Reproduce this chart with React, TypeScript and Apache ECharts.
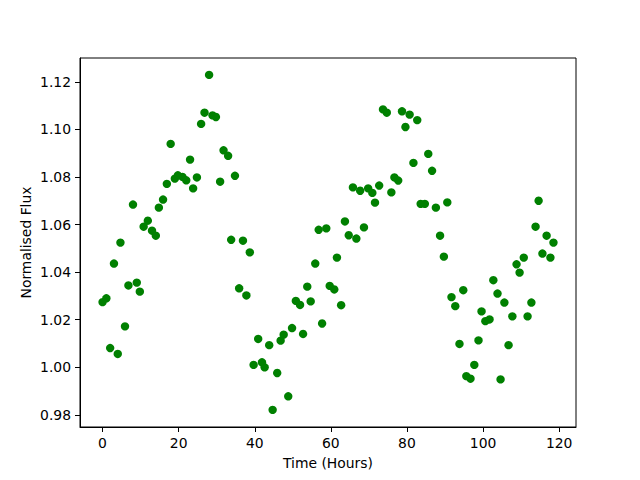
import React, { useEffect, useRef } from "react";
import * as echarts from "echarts";

const timeHours = [
  0, 1, 2, 3, 4, 4.7, 5.9, 6.8, 8, 9,
  9.8, 10.8, 11.9, 13, 14, 14.8, 15.9, 16.9, 17.9, 19,
  19.8, 21, 22, 23, 23.8, 24.8, 25.9, 26.8, 28, 28.9,
  29.8, 30.9, 31.8, 33, 33.8, 34.8, 35.9, 36.9, 37.8, 38.7,
  39.7, 40.9, 41.9, 42.6, 43.8, 44.7, 45.9, 46.8, 47.6, 48.8,
  49.8, 50.8, 51.9, 52.7, 53.8, 54.7, 55.9, 56.8, 57.7, 58.8,
  59.7, 60.9, 61.6, 62.7, 63.7, 64.7, 65.8, 66.7, 67.7, 68.7,
  69.8, 70.9, 71.6, 72.7, 73.7, 74.7, 75.9, 76.7, 77.7, 78.7,
  79.6, 80.7, 81.7, 82.7, 83.6, 84.7, 85.6, 86.6, 87.6, 88.7,
  89.7, 90.6, 91.7, 92.7, 93.8, 94.8, 95.6, 96.7, 97.7, 98.8,
  99.6, 100.6, 101.7, 102.7, 103.8, 104.6, 105.6, 106.7, 107.7, 108.8,
  109.6, 110.7, 111.7, 112.7, 113.8, 114.6, 115.6, 116.7, 117.7, 118.5,
];

const normalisedFlux = [
  1.0274, 1.029, 1.0081, 1.0436, 1.0056, 1.0524, 1.0172, 1.0344, 1.0684, 1.0356,
  1.0318, 1.0591, 1.0616, 1.0574, 1.0553, 1.0671, 1.0705, 1.0771, 1.0939, 1.0793,
  1.0807, 1.08, 1.0786, 1.0873, 1.0752, 1.0798, 1.1023, 1.107, 1.1229, 1.1059,
  1.1052, 1.078, 1.0912, 1.0889, 1.0536, 1.0805, 1.0332, 1.0532, 1.0302, 1.0483,
  1.001, 1.0119, 1.0021, 1.0, 1.0093, 0.9821, 0.9976, 1.0112, 1.0137, 0.9878,
  1.0165, 1.0279, 1.0262, 1.014, 1.0339, 1.0277, 1.0436, 1.0578, 1.0184, 1.0584,
  1.0342, 1.0327, 1.0461, 1.0261, 1.0613, 1.0555, 1.0756, 1.0541, 1.0742, 1.0588,
  1.0752, 1.0733, 1.0692, 1.0764, 1.1084, 1.107, 1.0735, 1.0798, 1.0785, 1.1076,
  1.101, 1.1062, 1.0859, 1.1039, 1.0687, 1.0687, 1.0897, 1.0826, 1.0671, 1.0553,
  1.0465, 1.0693, 1.0295, 1.0257, 1.0098, 1.0324, 0.9963, 0.9952, 1.001, 1.0113,
  1.0235, 1.0194, 1.0201, 1.0366, 1.031, 0.9949, 1.0272, 1.0093, 1.0214, 1.0433,
  1.0398, 1.0461, 1.0214, 1.0272, 1.0591, 1.07, 1.0478, 1.0553, 1.0461, 1.0524,
];

const xTicks = [0, 20, 40, 60, 80, 100, 120];
const yTicks = [0.98, 1.0, 1.02, 1.04, 1.06, 1.08, 1.1, 1.12];

const FONT = "DejaVu Sans";

export default function App() {
  const ref = useRef<HTMLDivElement>(null);
  useEffect(() => {
    if (!ref.current) return;
    const chart = echarts.init(ref.current, undefined, { renderer: "svg" });
    const data = timeHours.map((t, i) => [t, normalisedFlux[i]]);
    chart.setOption({
      animation: false,
      backgroundColor: "#ffffff",
      textStyle: { fontFamily: FONT },
      grid: {
        left: 80,
        right: 64,
        top: 58,
        bottom: 53,
        show: true,
        borderColor: "#000",
        borderWidth: 1,
        backgroundColor: "transparent",
      },
      xAxis: {
        type: "value",
        min: -5.925,
        max: 124.425,
        name: "Time (Hours)",
        nameLocation: "middle",
        nameGap: 29,
        nameMoveOverlap: false,
        nameTextStyle: { color: "#000", fontSize: 13.9, fontFamily: FONT },
        axisLine: { show: true, onZero: false, lineStyle: { color: "#000", width: 1 } },
        axisTick: {
          show: true,
          inside: false,
          length: 5,
          lineStyle: { color: "#000" },
          customValues: xTicks,
        },
        axisLabel: {
          color: "#000",
          fontSize: 13.9,
          fontFamily: FONT,
          margin: 9,
          customValues: xTicks,
          formatter: (v: number) => String(v),
        },
        splitLine: { show: false },
      },
      yAxis: {
        type: "value",
        min: 0.9749,
        max: 1.13,
        name: "Normalised Flux",
        nameLocation: "middle",
        nameGap: 47,
        nameMoveOverlap: false,
        nameRotate: 90,
        nameTextStyle: { color: "#000", fontSize: 13.9, fontFamily: FONT },
        axisLine: { show: true, onZero: false, lineStyle: { color: "#000", width: 1 } },
        axisTick: {
          show: true,
          inside: false,
          length: 5,
          lineStyle: { color: "#000" },
          customValues: yTicks,
        },
        axisLabel: {
          color: "#000",
          fontSize: 13.9,
          fontFamily: FONT,
          margin: 9,
          customValues: yTicks,
          formatter: (v: number) => v.toFixed(2),
        },
        splitLine: { show: false },
      },
      series: [
        {
          type: "scatter",
          data,
          symbol: "circle",
          symbolSize: 8.4,
          itemStyle: { color: "#008000", opacity: 1 },
        },
      ],
    });
    return () => chart.dispose();
  }, []);
  return (
    <div
      ref={ref}
      style={{ position: "fixed", left: 0, top: 0, width: 640, height: 480 }}
    />
  );
}
